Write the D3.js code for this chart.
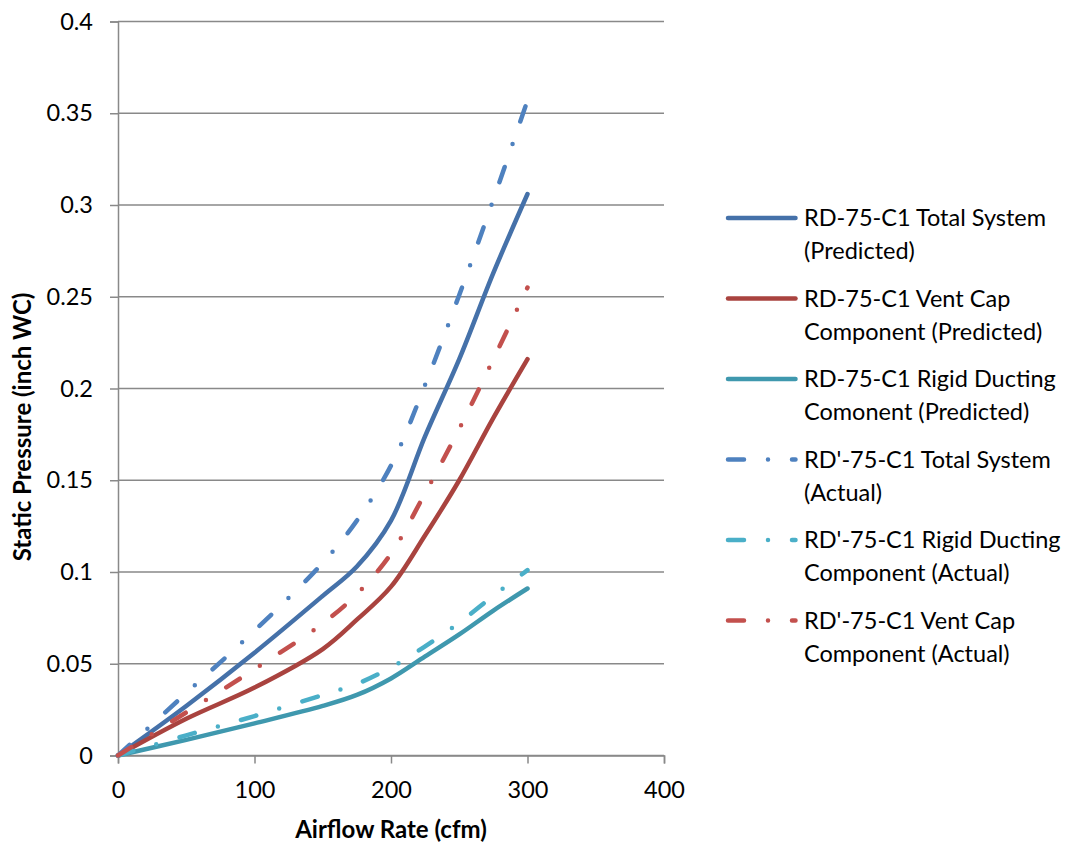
<!DOCTYPE html>
<html>
<head>
<meta charset="utf-8">
<script src="https://cdn.jsdelivr.net/npm/d3@7"></script>
<style>
  html, body { margin: 0; padding: 0; background: #fff; }
  svg { display: block; font-family: Lato, "Open Sans", sans-serif; }
</style>
</head>
<body>
<svg id="chart" width="1067" height="848"></svg>
<script>
// Airflow rate (cfm) sample positions
const airflow = [0, 50, 100, 150, 175, 200, 225, 250, 275, 300];

// Static pressure (inch WC) for each series
const totalPredicted    = [0, 0.027, 0.056, 0.087, 0.103, 0.128, 0.174, 0.216, 0.263, 0.306];
const ventCapPredicted  = [0, 0.020, 0.037, 0.058, 0.074, 0.092, 0.120, 0.150, 0.184, 0.216];
const ductingPredicted  = [0, 0.0085, 0.0175, 0.027, 0.033, 0.042, 0.054, 0.066, 0.079, 0.091];
const totalActual       = [0, 0.034, 0.068, 0.105, 0.128, 0.158, 0.202, 0.251, 0.303, 0.357];
const ductingActual     = [0, 0.011, 0.0215, 0.033, 0.039, 0.048, 0.0595, 0.0724, 0.087, 0.101];
const ventCapActual     = [0, 0.0235, 0.047, 0.072, 0.088, 0.110, 0.143, 0.178, 0.216, 0.255];

const seriesNames = [
  ["RD-75-C1 Total System", "(Predicted)"],
  ["RD-75-C1 Vent Cap", "Component (Predicted)"],
  ["RD-75-C1 Rigid Ducting", "Comonent (Predicted)"],
  ["RD'-75-C1 Total System", "(Actual)"],
  ["RD'-75-C1 Rigid Ducting", "Component (Actual)"],
  ["RD'-75-C1 Vent Cap", "Component (Actual)"]
];

const xTickValues = [0, 100, 200, 300, 400];
const yTickValues = [0, 0.05, 0.1, 0.15, 0.2, 0.25, 0.3, 0.35, 0.4];
const yTickLabels = ["0", "0.05", "0.1", "0.15", "0.2", "0.25", "0.3", "0.35", "0.4"];

const series = [
  { values: totalPredicted,   color: "#4571a9", dashed: false },
  { values: ventCapPredicted, color: "#a9433f", dashed: false },
  { values: ductingPredicted, color: "#3f98ae", dashed: false },
  { values: totalActual,      color: "#4e81bf", dashed: true },
  { values: ductingActual,    color: "#4aafc8", dashed: true },
  { values: ventCapActual,    color: "#c3504d", dashed: true }
];
series.forEach((s, i) => s.name = seriesNames[i]);

const svg = d3.select("#chart");
const gridColor = "#898989";
const dashPattern = "16,24,0,24";
const labelSize = 23.5;
const titleSize = 24;

const x = d3.scaleLinear().domain([0, 400]).range([118, 664]);
const y = d3.scaleLinear().domain([0, 0.4]).range([755.5, 21.5]);

// horizontal gridlines
svg.append("g")
  .selectAll("line")
  .data(yTickValues)
  .join("line")
  .attr("x1", x(0)).attr("x2", x(400))
  .attr("y1", d => y(d)).attr("y2", d => y(d))
  .attr("stroke", gridColor).attr("stroke-width", 1.5);

// y axis
const yAxis = svg.append("g")
  .attr("transform", `translate(${x(0)},0)`)
  .call(d3.axisLeft(y).tickValues(yTickValues)
    .tickFormat((d, i) => yTickLabels[i]).tickSize(8).tickPadding(17));
yAxis.select(".domain").attr("stroke", gridColor).attr("stroke-width", 1.5);
yAxis.selectAll(".tick line").attr("stroke", gridColor).attr("stroke-width", 1.5);
yAxis.selectAll(".tick text")
  .attr("font-family", "Lato").attr("font-size", labelSize).attr("fill", "#000");

// x axis
const xAxis = svg.append("g")
  .attr("transform", `translate(0,${y(0)})`)
  .call(d3.axisBottom(x).tickValues(xTickValues).tickFormat(d3.format("d"))
    .tickSize(8).tickPadding(18));
xAxis.select(".domain").attr("stroke", gridColor).attr("stroke-width", 1.5);
xAxis.selectAll(".tick line").attr("stroke", gridColor).attr("stroke-width", 1.5);
xAxis.selectAll(".tick text")
  .attr("font-family", "Lato").attr("font-size", labelSize).attr("fill", "#000");

// axis titles
svg.append("text")
  .attr("x", (x(0) + x(400)) / 2).attr("y", 838)
  .attr("text-anchor", "middle")
  .attr("font-family", "Lato").attr("font-weight", "bold").attr("font-size", titleSize)
  .text("Airflow Rate (cfm)");

svg.append("text")
  .attr("transform", "translate(31,427) rotate(-90)")
  .attr("text-anchor", "middle")
  .attr("font-family", "Lato").attr("font-weight", "bold").attr("font-size", titleSize)
  .text("Static Pressure (inch WC)");

// series lines
const line = d3.line()
  .x((d, i) => x(airflow[i]))
  .y(d => y(d))
  .curve(d3.curveCatmullRom.alpha(0.5));

svg.append("g")
  .selectAll("path")
  .data(series)
  .join("path")
  .attr("d", d => line(d.values))
  .attr("fill", "none")
  .attr("stroke", d => d.color)
  .attr("stroke-width", 4.5)
  .attr("stroke-linecap", "round")
  .attr("stroke-linejoin", "round")
  .attr("stroke-dasharray", d => d.dashed ? dashPattern : null);

// legend
const legend = svg.append("g");
const legendTop = 218;
const legendStep = 80.5;
series.forEach((s, i) => {
  const cy = legendTop + i * legendStep;
  legend.append("line")
    .attr("x1", 728).attr("x2", 795.5)
    .attr("y1", cy).attr("y2", cy)
    .attr("stroke", s.color).attr("stroke-width", 4.5)
    .attr("stroke-linecap", "round")
    .attr("stroke-dasharray", s.dashed ? dashPattern : null);
  const t = legend.append("text")
    .attr("x", 804).attr("y", cy + 8)
    .attr("font-family", "Lato").attr("font-size", labelSize).attr("fill", "#000");
  t.append("tspan").attr("x", 804).text(s.name[0]);
  t.append("tspan").attr("x", 804).attr("dy", 33).text(s.name[1]);
});
</script>
</body>
</html>
